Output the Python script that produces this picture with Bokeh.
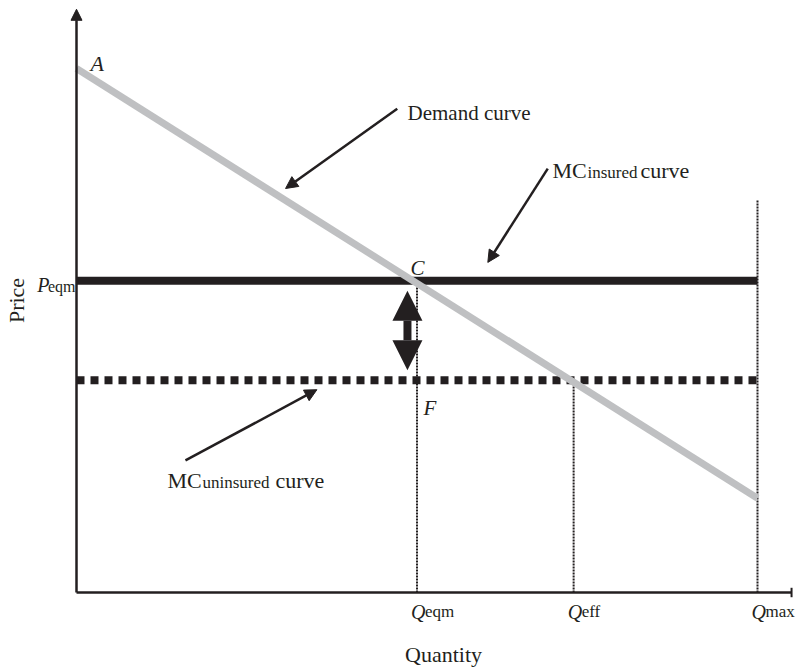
import math
from bokeh.plotting import figure
from bokeh.models import Range1d, Arrow, NormalHead
from bokeh.core.properties import value
from bokeh.embed import file_html
from bokeh.resources import INLINE

DARK = "#231f20"
GRAY = "#bfc0c2"
SERIF = value("Liberation Serif")

# ---------------- data ----------------
demand_q = [0, 100]
demand_p = [100, 18]
mc_insured_q = [0, 100]
mc_insured_p = [59.5, 59.5]
mc_uninsured_q = [0, 100]
mc_uninsured_p = [40.5, 40.5]
q_ticks = [50, 73, 100]
q_tick_subs = ["eqm", "eff", "max"]
q_guide_tops = [59.5, 40.5, 75]
p_ticks = [59.5]
p_tick_subs = ["eqm"]
gap_q = 48.6
gap_top = 57.6
gap_bottom = 42.4

# pointer arrows (start q, start p, end q, end p)
ptr_demand = [47.1, 92.3, 30.7, 77.1]
ptr_insured = [69.2, 80.9, 60.4, 63.0]
ptr_uninsured = [16.0, 25.2, 35.3, 38.7]

# ---------------- figure ----------------
W, H = 797, 671
OX, OY = 76, 592
PXX = 6.81
PXY = 5.24
p = figure(width=W, height=H,
           x_range=Range1d((0 - OX) / PXX, (W - OX) / PXX),
           y_range=Range1d((OY - H) / PXY, (OY - 0) / PXY),
           output_backend="svg", toolbar_location=None,
           x_axis_location=None, y_axis_location=None,
           min_border=0, min_border_left=0, min_border_right=0,
           min_border_top=0, min_border_bottom=0)
p.grid.visible = False
p.outline_line_color = None
p.background_fill_color = "white"
p.border_fill_color = "white"

# guides (dotted verticals)
p.segment(x0=q_ticks, y0=[0] * len(q_ticks), x1=q_ticks, y1=q_guide_tops,
          line_color=DARK, line_width=2, line_dash="2 1")

# MC lines
p.line(mc_insured_q, mc_insured_p, line_color=DARK, line_width=8)
p.line(mc_uninsured_q, mc_uninsured_p, line_color=DARK, line_width=8, line_dash="8 6")

# demand
p.line(demand_q, demand_p, line_color=GRAY, line_width=7)

# axes
p.line([0, 105.0], [0, 0], line_color=DARK, line_width=2.5)
p.segment(x0=[105.0], y0=[-0.9], x1=[105.0], y1=[0.9], line_color=DARK, line_width=2)
p.add_layout(Arrow(end=NormalHead(size=11, fill_color=DARK, line_color=DARK),
                   x_start=0, y_start=0, x_end=0, y_end=111.3,
                   line_color=DARK, line_width=2.5))

# double arrow (gap)
p.add_layout(Arrow(start=NormalHead(size=30, fill_color=DARK, line_color=DARK, line_width=0),
                   end=NormalHead(size=30, fill_color=DARK, line_color=DARK, line_width=0),
                   x_start=gap_q, y_start=gap_top, x_end=gap_q, y_end=gap_bottom,
                   line_color=DARK, line_width=8))

# pointer arrows
for s in (ptr_demand, ptr_insured, ptr_uninsured):
    p.add_layout(Arrow(end=NormalHead(size=12, fill_color=DARK, line_color=DARK, line_width=1),
                       x_start=s[0], y_start=s[1], x_end=s[2], y_end=s[3],
                       line_color=DARK, line_width=2.5))

def txt(xs, ys, texts, size, style="normal", align="left", angle=0.0):
    p.text(x=xs, y=ys, text=texts, text_font=SERIF, text_font_size=f"{size}px",
           text_font_style=style, text_color=DARK, text_align=align,
           text_baseline="alphabetic", angle=angle)

def qx(px):
    return (px - OX) / PXX

def py(pyv):
    return (OY - pyv) / PXY

# point labels
txt([qx(90)], [py(63)], ["A"], 22, "italic")
txt([qx(410)], [py(267)], ["C"], 21, "italic")
txt([qx(423)], [py(407)], ["F"], 21, "italic")

# annotation texts
txt([qx(407)], [py(112)], ["Demand curve"], 21)
txt([qx(552)], [py(170)], ["MC"], 22)
txt([qx(587)], [py(172)], ["insured"], 17)
txt([qx(640)], [py(170)], ["curve"], 22)
txt([qx(167)], [py(480)], ["MC"], 22)
txt([qx(202)], [py(482)], ["uninsured"], 17)
txt([qx(275)], [py(480)], ["curve"], 22)

# quantity tick labels
txt([q - 6 / PXX for q in q_ticks], [py(611)] * 3, ["Q"] * 3, 20, "italic")
txt([q + 8 / PXX for q in q_ticks], [py(611)] * 3, q_tick_subs, 17)

# price tick label
txt([qx(49)], [py(284)], ["P"], 20, "italic", align="right")
txt([qx(75)], [py(286)], p_tick_subs, 16, align="right")

# axis titles
txt([qx(443)], [py(654)], ["Quantity"], 22, align="center")
txt([qx(16)], [py(300)], ["Price"], 22, align="center", angle=math.pi / 2)

open("out.html", "w").write(file_html(p, INLINE))
